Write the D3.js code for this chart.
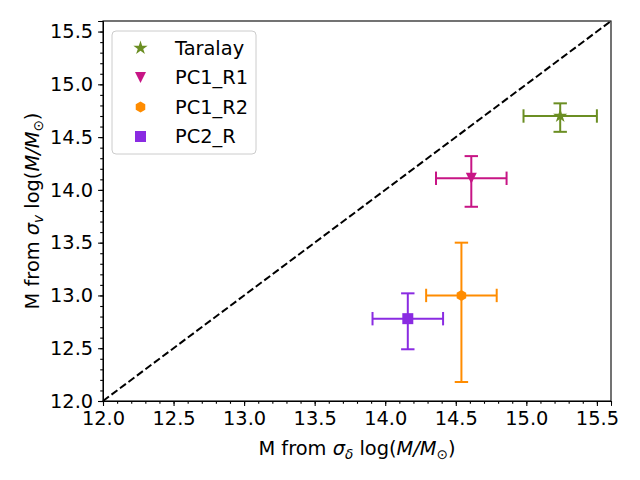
<!DOCTYPE html>
<html>
<head>
<meta charset="utf-8">
<script src="https://cdn.jsdelivr.net/npm/d3@7"></script>
<style>
  body { margin: 0; background: white; }
  svg { font-family: "DejaVu Sans", sans-serif; }
</style>
</head>
<body>
<div id="chart"></div>
<script>
const names = ["Taralay", "PC1_R1", "PC1_R2", "PC2_R"];
const colors = ["#6b8e23", "#c71585", "#ff8c00", "#8a2be2"];
const shapes = ["star", "tri", "hex", "square"];
const xVals = [15.24, 14.61, 14.54, 14.16];
const yVals = [14.70, 14.11, 13.00, 12.78];
const xErr = [0.26, 0.25, 0.25, 0.25];
const yErrLo = [0.15, 0.27, 0.82, 0.29];
const yErrHi = [0.12, 0.21, 0.50, 0.24];
const majorTicks = [12.0, 12.5, 13.0, 13.5, 14.0, 14.5, 15.0, 15.5];

const width = 640, height = 480;
const margin = { top: 21, right: 29, bottom: 79, left: 103 };
const fs = 19.4, subFs = 13.6;

const svg = d3.select("#chart").append("svg")
  .attr("width", width).attr("height", height);

const x = d3.scaleLinear().domain([12, 15.6]).range([margin.left, width - margin.right]);
const y = d3.scaleLinear().domain([12, 15.6]).range([height - margin.bottom, margin.top]);

const minorTicks = d3.range(120, 157).map(d => d / 10);

// one to one line
svg.append("line")
  .attr("x1", x(12)).attr("y1", y(12))
  .attr("x2", x(15.6)).attr("y2", y(15.6))
  .attr("stroke", "black").attr("stroke-width", 2)
  .attr("stroke-dasharray", "7.4,3.2");

const data = names.map((n, i) => ({
  name: n, color: colors[i], shape: shapes[i],
  x: xVals[i], y: yVals[i], xe: xErr[i], ylo: yErrLo[i], yhi: yErrHi[i]
}));

// error bars
const cap = 6.7;
const eb = svg.append("g");
data.forEach(d => {
  const g = eb.append("g").attr("stroke", d.color).attr("stroke-width", 2);
  g.append("line").attr("x1", x(d.x - d.xe)).attr("x2", x(d.x + d.xe))
    .attr("y1", y(d.y)).attr("y2", y(d.y));
  g.append("line").attr("x1", x(d.x)).attr("x2", x(d.x))
    .attr("y1", y(d.y - d.ylo)).attr("y2", y(d.y + d.yhi));
  [d.x - d.xe, d.x + d.xe].forEach(v => g.append("line")
    .attr("x1", x(v)).attr("x2", x(v))
    .attr("y1", y(d.y) - cap).attr("y2", y(d.y) + cap));
  [d.y - d.ylo, d.y + d.yhi].forEach(v => g.append("line")
    .attr("x1", x(d.x) - cap).attr("x2", x(d.x) + cap)
    .attr("y1", y(v)).attr("y2", y(v)));
});

function markerPath(shape, r) {
  if (shape === "star") {
    const pts = [];
    for (let k = 0; k < 10; k++) {
      const rr = k % 2 === 0 ? r : r * 0.382;
      const a = -Math.PI / 2 + k * Math.PI / 5;
      pts.push([rr * Math.cos(a), rr * Math.sin(a)]);
    }
    return "M" + pts.join("L") + "Z";
  }
  if (shape === "tri") {
    return `M${-r},${-r}L${r},${-r}L0,${r}Z`;
  }
  if (shape === "hex") {
    const pts = d3.range(6).map(k => {
      const a = -Math.PI / 2 + k * Math.PI / 3;
      return [r * Math.cos(a), r * Math.sin(a)];
    });
    return "M" + pts.join("L") + "Z";
  }
  return `M${-r},${-r}H${r}V${r}H${-r}Z`;
}

const rSize = { star: 7.5, tri: 5.5, hex: 5.5, square: 5.5 };

svg.append("g").selectAll("path").data(data).join("path")
  .attr("transform", d => `translate(${x(d.x)},${y(d.y)})`)
  .attr("d", d => markerPath(d.shape, rSize[d.shape]))
  .attr("fill", d => d.color);

// axes
svg.append("g").attr("transform", `translate(0,${height - margin.bottom})`)
  .call(d3.axisBottom(x).tickValues(majorTicks).tickFormat(d3.format(".1f")).tickSize(4.9).tickPadding(4.9));
svg.append("g").attr("transform", `translate(0,${height - margin.bottom})`)
  .call(d3.axisBottom(x).tickValues(minorTicks).tickFormat("").tickSize(2.8))
  .call(g => g.select(".domain").remove());

svg.append("g").attr("transform", `translate(${margin.left},0)`)
  .call(d3.axisLeft(y).tickValues(majorTicks).tickFormat(d3.format(".1f")).tickSize(4.9).tickPadding(4.9));
svg.append("g").attr("transform", `translate(${margin.left},0)`)
  .call(d3.axisLeft(y).tickValues(minorTicks).tickFormat("").tickSize(2.8))
  .call(g => g.select(".domain").remove());

svg.selectAll(".tick text").style("font-size", fs + "px").attr("fill", "black")
  .style("font-family", "DejaVu Sans");
svg.selectAll(".tick line").attr("stroke-width", 1.1);

// frame
svg.append("rect")
  .attr("x", margin.left).attr("y", margin.top)
  .attr("width", width - margin.left - margin.right)
  .attr("height", height - margin.top - margin.bottom)
  .attr("fill", "none").attr("stroke", "black").attr("stroke-width", 1.1);

// axis labels
function massLabel(sel, sub) {
  sel.append("tspan").text("M from ");
  sel.append("tspan").style("font-style", "italic").text("σ");
  sel.append("tspan").style("font-style", "italic").style("font-size", subFs + "px").attr("dy", 3.5).text(sub);
  sel.append("tspan").attr("dy", -3.5).text(" log(");
  sel.append("tspan").style("font-style", "italic").text("M/M");
  sel.append("tspan").style("font-size", subFs + "px").attr("dy", 3.5).text("⊙");
  sel.append("tspan").attr("dy", -3.5).text(")");
}

const xl = svg.append("text")
  .attr("x", (margin.left + width - margin.right) / 2)
  .attr("y", 455)
  .attr("text-anchor", "middle").style("font-size", fs + "px");
massLabel(xl, "δ");

const yl = svg.append("text")
  .attr("transform", `translate(39,${(margin.top + height - margin.bottom) / 2}) rotate(-90)`)
  .attr("text-anchor", "middle").style("font-size", fs + "px");
massLabel(yl, "v");

// legend
const legend = svg.append("g").attr("transform", "translate(112,31)");
legend.append("rect")
  .attr("width", 144).attr("height", 123).attr("rx", 4)
  .attr("fill", "white").attr("fill-opacity", 0.8)
  .attr("stroke", "#cccccc");
const items = legend.selectAll("g.item").data(data).join("g")
  .attr("class", "item")
  .attr("transform", (d, i) => `translate(0,${17 + i * 29.5})`);
items.append("path")
  .attr("transform", "translate(28.5,0)")
  .attr("d", d => markerPath(d.shape, rSize[d.shape]))
  .attr("fill", d => d.color);
items.append("text")
  .attr("x", 63).attr("dy", "0.36em")
  .style("font-size", fs + "px")
  .text(d => d.name);
</script>
</body>
</html>
